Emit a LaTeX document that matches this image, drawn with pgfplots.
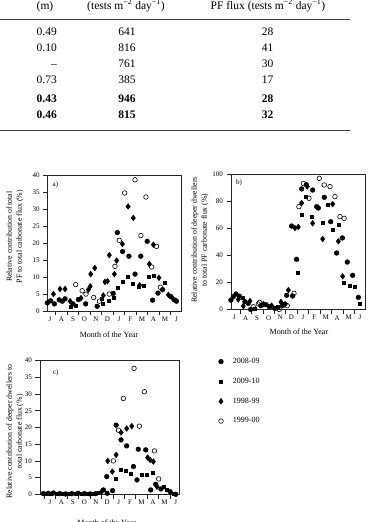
\documentclass[border=0pt]{standalone}
\usepackage{fontspec}
\setmainfont{Liberation Serif}
\usepackage{pgfplots}
\pgfplotsset{compat=1.18}

\pgfplotsset{
  panel/.style={
    scale only axis,
    clip=false,
    axis line style={line width=0.6pt, black!85},
    tick align=outside,
    xtick pos=bottom, ytick pos=left,
    major tick length=4.5pt,
    minor tick length=4.5pt,
    tick style={line width=0.6pt, black!85},
    xtick={0.5,1.5,...,11.5},
    xticklabels={J,A,S,O,N,D,J,F,M,A,M,J},
    major x tick style={draw=none},
    minor xtick={0,...,12},
    /pgf/number format/assume math mode=true,
    tick label style={font=\fontsize{7}{8}\selectfont},
    xticklabel style={inner sep=1pt},
    label style={font=\fontsize{7.8}{10}\selectfont, align=center},
    xlabel style={font=\fontsize{8}{10}\selectfont},
  },
  s08/.style={only marks, mark=*, mark size=2.4pt, mark options={fill=black, draw=black}},
  s09/.style={only marks, mark=square*, mark size=1.5pt, mark options={fill=black, draw=black}},
  s98/.style={only marks, mark=diamond*, mark size=2.9pt, mark options={fill=black, draw=black}},
  s99/.style={only marks, mark=o, mark size=2.3pt, mark options={draw=black, line width=0.6pt}},
}

\newcommand\tabfont{\fontsize{11.5}{13}\selectfont}

\begin{document}
\begin{tikzpicture}
\clip[use as bounding box] (0pt,0pt) rectangle (370pt,522pt);

% ---- flux table (lower part) ----
\begin{scope}[every node/.style={font=\tabfont, inner sep=0pt}]
  \node[anchor=base] at (45pt,512.7pt) {(m)};
  \node[anchor=base] at (126pt,512.7pt) {(tests m\textsuperscript{−2} day\textsuperscript{−1})};
  \node[anchor=base] at (268pt,512.7pt) {PF flux (tests m\textsuperscript{−2} day\textsuperscript{−1})};
  \draw[line width=0.8pt, black!75] (0pt,503pt) -- (350pt,503pt);
  \foreach \y/\a/\b/\c in {486/0.49/641/28, 470/0.10/816/41, 454.3/–/761/30, 438.3/0.73/385/17}{
    \node[anchor=base east] at (57pt,\y pt) {\a};
    \node[anchor=base] at (127pt,\y pt) {\b};
    \node[anchor=base] at (267.5pt,\y pt) {\c};
  }
  \foreach \y/\a/\b/\c in {419.5/0.43/946/28, 403.3/0.46/815/32}{
    \node[anchor=base east] at (57pt,\y pt) {\bfseries\a};
    \node[anchor=base] at (127pt,\y pt) {\bfseries\b};
    \node[anchor=base] at (267.5pt,\y pt) {\bfseries\c};
  }
  \draw[line width=0.8pt, black!75] (0pt,391.3pt) -- (350pt,391.3pt);
\end{scope}

% ---- a) total PF share of carbonate flux ----
\begin{axis}[panel, at={(47.7pt,211pt)}, anchor=south west,
  width=133.3pt, height=135.3pt,
  xmin=0.3, xmax=11.9, ymin=0, ymax=40, ytick={0,5,...,40},
  ylabel={Relative contribution of total\\PF to total carbonate flux (\%)},
  ylabel style={at={(axis description cs:-0.245,0.549)}, anchor=center},
  xlabel={Month of the Year},
  xlabel style={at={(axis description cs:0.46,-0.174)}, anchor=center},
]
\addplot[s08] coordinates {(0.27,2.4)(0.55,3.0)(0.88,2.1)(1.30,3.3)(1.57,2.9)(1.81,3.6)(2.50,2.1)(2.97,3.4)(3.60,2.1)(4.60,1.4)(6.00,5.2)(6.36,23.2)(6.82,17.6)(7.37,16.2)(7.90,10.9)(8.40,16.2)(8.96,20.6)(9.43,3.2)(9.90,5.3)(10.30,6.3)(11.00,4.3)(11.40,3.2)(11.50,2.9)};
\addplot[s09] coordinates {(2.30,1.4)(2.70,1.7)(5.00,3.5)(5.09,2.1)(5.57,3.1)(6.00,4.0)(6.36,6.8)(6.79,8.8)(7.25,10.2)(7.68,8.0)(8.20,7.2)(8.62,7.6)(9.05,10.0)(9.50,10.5)(10.50,8.3)};
\addplot[s98] coordinates {(0.80,5.0)(1.37,6.5)(1.81,6.5)(2.25,2.9)(3.20,3.8)(3.84,6.3)(4.00,7.3)(4.04,10.9)(4.40,12.7)(5.14,4.6)(5.28,8.6)(5.50,8.8)(5.66,16.5)(6.10,10.9)(6.30,14.9)(6.80,19.8)(7.30,30.9)(7.75,27.5)(8.30,7.6)(9.14,13.9)(9.50,19.6)(9.98,9.8)(10.80,4.8)(11.20,3.6)};
\addplot[s99] coordinates {(2.74,7.8)(3.30,6.0)(3.63,5.0)(4.30,4.0)(4.80,2.9)(5.66,5.0)(6.15,13.2)(6.53,20.9)(7.00,34.9)(7.90,38.8)(8.41,22.3)(8.85,33.7)(9.35,13.0)(9.77,19.1)(10.10,7.0)};
\node[font=\fontsize{7}{8}\selectfont] at (axis description cs:0.058,0.93) {a)};
\end{axis}

% ---- b) deeper dwellers share of PF carbonate flux ----
\begin{axis}[panel, at={(231pt,212.3pt)}, anchor=south west,
  width=134pt, height=135.4pt,
  xmin=0.21, xmax=11.93, ymin=0, ymax=100, ytick={0,20,...,100},
  ylabel={Relative contribution of deeper dwellers\\to total PF carbonate flux (\%)},
  ylabel style={at={(axis description cs:-0.231,0.515)}, anchor=center},
  xlabel={Month of the Year},
  xlabel style={at={(axis description cs:0.507,-0.165)}, anchor=center},
]
\addplot[s08] coordinates {(0.20,7.1)(0.41,9.6)(0.64,11.6)(0.94,10.0)(1.43,5.9)(1.72,4.7)(1.93,0.2)(2.83,3.0)(3.27,3.7)(3.56,2.2)(4.05,1.0)(4.73,3.0)(4.93,4.2)(5.08,10.6)(5.51,61.8)(5.60,10.1)(5.95,37.2)(6.39,89.2)(6.80,92.3)(7.35,88.4)(7.70,76.1)(7.85,75.1)(8.37,83.0)(8.93,65.0)(9.45,41.9)(9.95,53.0)(10.38,35.2)(10.85,25.4)(11.35,9.1)};
\addplot[s09] coordinates {(1.23,9.0)(2.30,1.0)(4.26,2.2)(6.00,27.3)(6.39,70.4)(6.77,83.5)(7.26,68.7)(8.20,64.3)(8.63,77.3)(9.10,58.9)(9.60,62.6)(10.10,19.7)(10.56,18.0)(11.00,16.7)(11.49,4.2)};
\addplot[s98] coordinates {(0.85,7.6)(1.29,2.7)(1.87,6.4)(3.04,4.2)(3.76,3.0)(4.58,5.7)(5.23,14.5)(5.80,60.3)(6.09,61.1)(6.39,78.8)(6.88,91.0)(7.35,63.8)(8.23,52.2)(9.10,78.0)(9.60,50.5)(9.97,24.6)};
\addplot[s99] coordinates {(2.16,2.2)(2.60,4.2)(2.70,5.4)(4.43,0.2)(5.13,3.0)(5.72,12.1)(6.15,76.1)(6.54,93.2)(7.03,82.3)(7.93,97.0)(8.37,92.1)(8.87,90.9)(9.30,83.5)(9.74,68.7)(10.10,67.5)};
\node[font=\fontsize{7}{8}\selectfont] at (axis description cs:0.06,0.934) {b)};
\end{axis}

% ---- c) deeper dwellers share of total carbonate flux ----
\begin{axis}[panel, at={(40pt,27.7pt)}, anchor=south west,
  width=139pt, height=133.6pt,
  xmin=-0.38, xmax=11.78, ymin=0, ymax=40, ytick={0,5,...,40},
  ylabel={Relative contribution of deeper dwellers to\\total carbonate flux (\%)},
  ylabel style={at={(axis description cs:-0.18,0.47)}, anchor=center},
  xlabel={Month of the Year},
  xlabel style={at={(axis description cs:0.48,-0.215)}, anchor=center},
  legend style={draw=none, fill=none, at={(axis description cs:1.243,1.05)}, anchor=north west,
    font=\fontsize{8}{9}\selectfont, row sep=9pt},
  legend cell align=left,
  legend image code/.code={%
    \path[draw=none, fill=none] (-1pt,0pt) -- (14pt,0pt);
    \draw[mark repeat=2,mark phase=2,#1] plot coordinates {(0pt,0pt) (4pt,0pt) (8pt,0pt)};},
]
\addplot[s08] coordinates {(-0.08,0.2)(0.35,0.3)(0.80,0.4)(1.35,0.2)(1.85,0.1)(2.40,0.2)(2.95,0.3)(3.50,0.2)(4.00,0.1)(4.50,0.2)(5.17,1.3)(5.46,5.3)(5.97,1.1)(6.28,20.7)(6.71,16.3)(7.20,14.5)(7.79,8.3)(8.10,4.3)(8.22,13.5)(8.87,13.3)(9.30,1.3)(9.74,3.0)(10.20,1.6)(11.00,0.8)(11.50,0.0)};
\addlegendentry{2008-09}
\addplot[s09] coordinates {(0.15,0.3)(0.55,0.1)(1.10,0.2)(1.60,0.3)(2.15,0.1)(2.70,0.2)(3.25,0.1)(3.75,0.3)(4.25,0.2)(4.75,0.4)(5.46,0.5)(6.25,4.6)(6.71,7.3)(7.15,7.0)(7.58,6.3)(8.52,6.0)(8.96,6.0)(9.49,6.6)(10.40,2.3)(10.70,1.3)(11.30,0.3)};
\addlegendentry{2009-10}
\addplot[s98] coordinates {(5.00,0.8)(5.55,10.0)(5.95,6.8)(6.28,11.8)(6.71,18.5)(7.20,19.7)(7.65,20.4)(9.04,11.0)(9.25,10.3)(9.54,9.8)(9.85,2.3)};
\addlegendentry{1998-99}
\addplot[s99] coordinates {(5.50,0.3)(6.04,10.0)(6.48,19.2)(6.91,28.7)(7.85,37.7)(8.31,20.4)(8.75,30.7)(9.63,13.0)(10.00,4.6)};
\addlegendentry{1999-00}
\node[font=\fontsize{7}{8}\selectfont] at (axis description cs:0.114,0.906) {c)};
\end{axis}
\end{tikzpicture}
\end{document}
